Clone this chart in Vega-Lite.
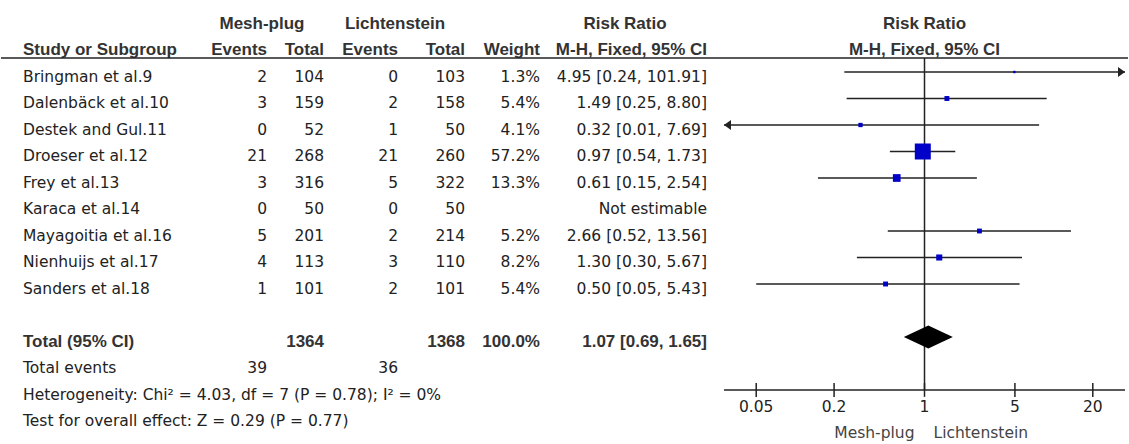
{
  "$schema": "https://vega.github.io/schema/vega-lite/v6.json",
  "width": 1129,
  "height": 444,
  "autosize": {"type": "fit", "contains": "padding"},
  "padding": 0,
  "background": "white",
  "config": {"view": {"stroke": null}, "text": {"font": "DejaVu Sans", "fontSize": 15.5, "color": "#222222"}},
  "datasets": {
    "studies": [
      {"study": "Bringman et al.9", "row": 1, "ev1": 2, "tot1": 104, "ev2": 0, "tot2": 103, "weight": 0.013, "rr": 4.95, "lo": 0.24, "hi": 101.91, "ci": "4.95 [0.24, 101.91]"},
      {"study": "Dalenbäck et al.10", "row": 2, "ev1": 3, "tot1": 159, "ev2": 2, "tot2": 158, "weight": 0.054, "rr": 1.49, "lo": 0.25, "hi": 8.80, "ci": "1.49 [0.25, 8.80]"},
      {"study": "Destek and Gul.11", "row": 3, "ev1": 0, "tot1": 52, "ev2": 1, "tot2": 50, "weight": 0.041, "rr": 0.32, "lo": 0.01, "hi": 7.69, "ci": "0.32 [0.01, 7.69]"},
      {"study": "Droeser et al.12", "row": 4, "ev1": 21, "tot1": 268, "ev2": 21, "tot2": 260, "weight": 0.572, "rr": 0.97, "lo": 0.54, "hi": 1.73, "ci": "0.97 [0.54, 1.73]"},
      {"study": "Frey et al.13", "row": 5, "ev1": 3, "tot1": 316, "ev2": 5, "tot2": 322, "weight": 0.133, "rr": 0.61, "lo": 0.15, "hi": 2.54, "ci": "0.61 [0.15, 2.54]"},
      {"study": "Karaca et al.14", "row": 6, "ev1": 0, "tot1": 50, "ev2": 0, "tot2": 50, "weight": null, "rr": null, "lo": null, "hi": null, "ci": "Not estimable"},
      {"study": "Mayagoitia et al.16", "row": 7, "ev1": 5, "tot1": 201, "ev2": 2, "tot2": 214, "weight": 0.052, "rr": 2.66, "lo": 0.52, "hi": 13.56, "ci": "2.66 [0.52, 13.56]"},
      {"study": "Nienhuijs et al.17", "row": 8, "ev1": 4, "tot1": 113, "ev2": 3, "tot2": 110, "weight": 0.082, "rr": 1.30, "lo": 0.30, "hi": 5.67, "ci": "1.30 [0.30, 5.67]"},
      {"study": "Sanders et al.18", "row": 9, "ev1": 1, "tot1": 101, "ev2": 2, "tot2": 101, "weight": 0.054, "rr": 0.50, "lo": 0.05, "hi": 5.43, "ci": "0.50 [0.05, 5.43]"}
    ],
    "total": [
      {"label": "Total (95% CI)", "row": 11, "tot1": 1364, "tot2": 1368, "weight": 1.0, "rr": 1.07, "lo": 0.69, "hi": 1.65, "ci": "1.07 [0.69, 1.65]"}
    ],
    "events": [
      {"label": "Total events", "row": 12, "ev1": 39, "ev2": 36}
    ],
    "notes": [
      {"label": "Heterogeneity: Chi² = 4.03, df = 7 (P = 0.78); I² = 0%", "row": 13},
      {"label": "Test for overall effect: Z = 0.29 (P = 0.77)", "row": 14}
    ],
    "headers": [
      {"label": "Mesh-plug", "col": 1, "row": -1},
      {"label": "Lichtenstein", "col": 4, "row": -1},
      {"label": "Risk Ratio", "col": 8, "row": -1},
      {"label": "Study or Subgroup", "col": 0, "row": 0},
      {"label": "Events", "col": 2, "row": 0},
      {"label": "Total", "col": 3, "row": 0},
      {"label": "Events", "col": 5, "row": 0},
      {"label": "Total", "col": 6, "row": 0},
      {"label": "Weight", "col": 7, "row": 0},
      {"label": "M-H, Fixed, 95% CI", "col": 9, "row": 0}
    ],
    "forest_headers": [
      {"label": "Risk Ratio", "row": -1},
      {"label": "M-H, Fixed, 95% CI", "row": 0}
    ],
    "null_effect": [
      {"rr": 1}
    ],
    "ticks": [
      {"tick": 0.05, "label": "0.05"},
      {"tick": 0.2, "label": "0.2"},
      {"tick": 1, "label": "1"},
      {"tick": 5, "label": "5"},
      {"tick": 20, "label": "20"}
    ],
    "favours": [
      {"label": "Mesh-plug", "side": "left"},
      {"label": "Lichtenstein", "side": "right"}
    ]
  },
  "resolve": {"scale": {"x": "independent"}},
  "layer": [
    {
      "layer": [
        {"data": {"name": "headers"}, "transform": [{"filter": "datum.col == 0"}],
         "mark": {"type": "text", "align": "left", "baseline": "middle", "dy": 5, "font": "Liberation Sans", "fontWeight": "bold", "fontSize": 17, "color": "#333333"},
         "encoding": {"x": {"field": "col", "type": "quantitative", "scale": {"type": "linear", "domain": [0,1,2,3,4,5,6,7,8,9], "range": [22,261,266,323,394,397,464,539,624,706], "nice": false, "zero": false}, "axis": null},
                      "y": {"field": "row", "type": "quantitative", "scale": {"domain": [-1.717, 15.038], "reverse": true, "nice": false, "zero": false}, "axis": null},
                      "text": {"field": "label"}}},
        {"data": {"name": "headers"}, "transform": [{"filter": "indexof([1,4,8], datum.col) >= 0"}],
         "mark": {"type": "text", "align": "center", "baseline": "middle", "dy": 5, "font": "Liberation Sans", "fontWeight": "bold", "fontSize": 17, "color": "#333333"},
         "encoding": {"x": {"field": "col", "type": "quantitative", "scale": {"type": "linear", "domain": [0,1,2,3,4,5,6,7,8,9], "range": [22,261,266,323,394,397,464,539,624,706], "nice": false, "zero": false}, "axis": null},
                      "y": {"field": "row", "type": "quantitative", "axis": null},
                      "text": {"field": "label"}}},
        {"data": {"name": "headers"}, "transform": [{"filter": "datum.col != 0 && indexof([1,4,8], datum.col) < 0"}],
         "mark": {"type": "text", "align": "right", "baseline": "middle", "dy": 5, "font": "Liberation Sans", "fontWeight": "bold", "fontSize": 17, "color": "#333333"},
         "encoding": {"x": {"field": "col", "type": "quantitative", "scale": {"type": "linear", "domain": [0,1,2,3,4,5,6,7,8,9], "range": [22,261,266,323,394,397,464,539,624,706], "nice": false, "zero": false}, "axis": null},
                      "y": {"field": "row", "type": "quantitative", "axis": null},
                      "text": {"field": "label"}}},
        {"data": {"name": "studies"},
         "mark": {"type": "text", "align": "left", "baseline": "middle", "dy": 5},
         "encoding": {"x": {"datum": 0, "type": "quantitative", "scale": {"type": "linear", "domain": [0,1,2,3,4,5,6,7,8,9], "range": [22,261,266,323,394,397,464,539,624,706], "nice": false, "zero": false}, "axis": null},
                      "y": {"field": "row", "type": "quantitative", "axis": null},
                      "text": {"field": "study"}}},
        {"data": {"name": "studies"},
         "mark": {"type": "text", "align": "right", "baseline": "middle", "dy": 5},
         "encoding": {"x": {"datum": 2, "type": "quantitative", "scale": {"type": "linear", "domain": [0,1,2,3,4,5,6,7,8,9], "range": [22,261,266,323,394,397,464,539,624,706], "nice": false, "zero": false}, "axis": null},
                      "y": {"field": "row", "type": "quantitative", "axis": null},
                      "text": {"field": "ev1", "type": "quantitative"}}},
        {"data": {"name": "studies"},
         "mark": {"type": "text", "align": "right", "baseline": "middle", "dy": 5},
         "encoding": {"x": {"datum": 3, "type": "quantitative", "scale": {"type": "linear", "domain": [0,1,2,3,4,5,6,7,8,9], "range": [22,261,266,323,394,397,464,539,624,706], "nice": false, "zero": false}, "axis": null},
                      "y": {"field": "row", "type": "quantitative", "axis": null},
                      "text": {"field": "tot1", "type": "quantitative"}}},
        {"data": {"name": "studies"},
         "mark": {"type": "text", "align": "right", "baseline": "middle", "dy": 5},
         "encoding": {"x": {"datum": 5, "type": "quantitative", "scale": {"type": "linear", "domain": [0,1,2,3,4,5,6,7,8,9], "range": [22,261,266,323,394,397,464,539,624,706], "nice": false, "zero": false}, "axis": null},
                      "y": {"field": "row", "type": "quantitative", "axis": null},
                      "text": {"field": "ev2", "type": "quantitative"}}},
        {"data": {"name": "studies"},
         "mark": {"type": "text", "align": "right", "baseline": "middle", "dy": 5},
         "encoding": {"x": {"datum": 6, "type": "quantitative", "scale": {"type": "linear", "domain": [0,1,2,3,4,5,6,7,8,9], "range": [22,261,266,323,394,397,464,539,624,706], "nice": false, "zero": false}, "axis": null},
                      "y": {"field": "row", "type": "quantitative", "axis": null},
                      "text": {"field": "tot2", "type": "quantitative"}}},
        {"data": {"name": "studies"}, "transform": [{"filter": "isValid(datum.weight)"}],
         "mark": {"type": "text", "align": "right", "baseline": "middle", "dy": 5},
         "encoding": {"x": {"datum": 7, "type": "quantitative", "scale": {"type": "linear", "domain": [0,1,2,3,4,5,6,7,8,9], "range": [22,261,266,323,394,397,464,539,624,706], "nice": false, "zero": false}, "axis": null},
                      "y": {"field": "row", "type": "quantitative", "axis": null},
                      "text": {"field": "weight", "type": "quantitative", "format": ".1%"}}},
        {"data": {"name": "studies"},
         "mark": {"type": "text", "align": "right", "baseline": "middle", "dy": 5},
         "encoding": {"x": {"datum": 9, "type": "quantitative", "scale": {"type": "linear", "domain": [0,1,2,3,4,5,6,7,8,9], "range": [22,261,266,323,394,397,464,539,624,706], "nice": false, "zero": false}, "axis": null},
                      "y": {"field": "row", "type": "quantitative", "axis": null},
                      "text": {"field": "ci"}}},
        {"data": {"name": "total"},
         "mark": {"type": "text", "align": "left", "baseline": "middle", "dy": 5, "font": "Liberation Sans", "fontWeight": "bold", "fontSize": 17, "color": "#333333"},
         "encoding": {"x": {"datum": 0, "type": "quantitative", "scale": {"type": "linear", "domain": [0,1,2,3,4,5,6,7,8,9], "range": [22,261,266,323,394,397,464,539,624,706], "nice": false, "zero": false}, "axis": null},
                      "y": {"field": "row", "type": "quantitative", "axis": null},
                      "text": {"field": "label"}}},
        {"data": {"name": "total"},
         "mark": {"type": "text", "align": "right", "baseline": "middle", "dy": 5, "font": "Liberation Sans", "fontWeight": "bold", "fontSize": 17, "color": "#333333"},
         "encoding": {"x": {"datum": 3, "type": "quantitative", "scale": {"type": "linear", "domain": [0,1,2,3,4,5,6,7,8,9], "range": [22,261,266,323,394,397,464,539,624,706], "nice": false, "zero": false}, "axis": null},
                      "y": {"field": "row", "type": "quantitative", "axis": null},
                      "text": {"field": "tot1", "type": "quantitative"}}},
        {"data": {"name": "total"},
         "mark": {"type": "text", "align": "right", "baseline": "middle", "dy": 5, "font": "Liberation Sans", "fontWeight": "bold", "fontSize": 17, "color": "#333333"},
         "encoding": {"x": {"datum": 6, "type": "quantitative", "scale": {"type": "linear", "domain": [0,1,2,3,4,5,6,7,8,9], "range": [22,261,266,323,394,397,464,539,624,706], "nice": false, "zero": false}, "axis": null},
                      "y": {"field": "row", "type": "quantitative", "axis": null},
                      "text": {"field": "tot2", "type": "quantitative"}}},
        {"data": {"name": "total"},
         "mark": {"type": "text", "align": "right", "baseline": "middle", "dy": 5, "font": "Liberation Sans", "fontWeight": "bold", "fontSize": 17, "color": "#333333"},
         "encoding": {"x": {"datum": 7, "type": "quantitative", "scale": {"type": "linear", "domain": [0,1,2,3,4,5,6,7,8,9], "range": [22,261,266,323,394,397,464,539,624,706], "nice": false, "zero": false}, "axis": null},
                      "y": {"field": "row", "type": "quantitative", "axis": null},
                      "text": {"field": "weight", "type": "quantitative", "format": ".1%"}}},
        {"data": {"name": "total"},
         "mark": {"type": "text", "align": "right", "baseline": "middle", "dy": 5, "font": "Liberation Sans", "fontWeight": "bold", "fontSize": 17, "color": "#333333"},
         "encoding": {"x": {"datum": 9, "type": "quantitative", "scale": {"type": "linear", "domain": [0,1,2,3,4,5,6,7,8,9], "range": [22,261,266,323,394,397,464,539,624,706], "nice": false, "zero": false}, "axis": null},
                      "y": {"field": "row", "type": "quantitative", "axis": null},
                      "text": {"field": "ci"}}},
        {"data": {"name": "events"},
         "mark": {"type": "text", "align": "left", "baseline": "middle", "dy": 5},
         "encoding": {"x": {"datum": 0, "type": "quantitative", "scale": {"type": "linear", "domain": [0,1,2,3,4,5,6,7,8,9], "range": [22,261,266,323,394,397,464,539,624,706], "nice": false, "zero": false}, "axis": null},
                      "y": {"field": "row", "type": "quantitative", "axis": null},
                      "text": {"field": "label"}}},
        {"data": {"name": "events"},
         "mark": {"type": "text", "align": "right", "baseline": "middle", "dy": 5},
         "encoding": {"x": {"datum": 2, "type": "quantitative", "scale": {"type": "linear", "domain": [0,1,2,3,4,5,6,7,8,9], "range": [22,261,266,323,394,397,464,539,624,706], "nice": false, "zero": false}, "axis": null},
                      "y": {"field": "row", "type": "quantitative", "axis": null},
                      "text": {"field": "ev1", "type": "quantitative"}}},
        {"data": {"name": "events"},
         "mark": {"type": "text", "align": "right", "baseline": "middle", "dy": 5},
         "encoding": {"x": {"datum": 5, "type": "quantitative", "scale": {"type": "linear", "domain": [0,1,2,3,4,5,6,7,8,9], "range": [22,261,266,323,394,397,464,539,624,706], "nice": false, "zero": false}, "axis": null},
                      "y": {"field": "row", "type": "quantitative", "axis": null},
                      "text": {"field": "ev2", "type": "quantitative"}}},
        {"data": {"name": "notes"},
         "mark": {"type": "text", "align": "left", "baseline": "middle", "dy": 5},
         "encoding": {"x": {"datum": 0, "type": "quantitative", "scale": {"type": "linear", "domain": [0,1,2,3,4,5,6,7,8,9], "range": [22,261,266,323,394,397,464,539,624,706], "nice": false, "zero": false}, "axis": null},
                      "y": {"field": "row", "type": "quantitative", "axis": null},
                      "text": {"field": "label"}}}
      ]
    },
    {
      "layer": [
        {"data": {"name": "forest_headers"},
         "mark": {"type": "text", "align": "center", "baseline": "middle", "dy": 5, "font": "Liberation Sans", "fontWeight": "bold", "fontSize": 17, "color": "#333333"},
         "encoding": {"x": {"datum": 1, "type": "quantitative", "scale": {"type": "log", "domain": [0.02818, 35.48], "range": [723, 1124], "clamp": true, "nice": false}, "axis": null},
                      "y": {"field": "row", "type": "quantitative", "axis": null},
                      "text": {"field": "label"}}},
        {"data": {"name": "null_effect"},
         "mark": {"type": "rule", "color": "#222222", "strokeWidth": 1.5},
         "encoding": {"y": {"datum": 0.47, "type": "quantitative", "axis": null}}},
        {"data": {"name": "null_effect"},
         "mark": {"type": "rule", "color": "#222222", "strokeWidth": 1.5},
         "encoding": {"x": {"field": "rr", "type": "quantitative", "scale": {"type": "log", "domain": [0.02818, 35.48], "range": [723, 1124], "clamp": true, "nice": false}, "axis": null},
                      "y": {"datum": 0.47, "type": "quantitative", "axis": null},
                      "y2": {"datum": 13}}},
        {"data": {"name": "studies"}, "transform": [{"filter": "isValid(datum.rr)"}],
         "mark": {"type": "rule", "color": "#222222", "strokeWidth": 1.5},
         "encoding": {"x": {"field": "lo", "type": "quantitative", "scale": {"type": "log", "domain": [0.02818, 35.48], "range": [723, 1124], "clamp": true, "nice": false}, "axis": null},
                      "x2": {"field": "hi"},
                      "y": {"field": "row", "type": "quantitative", "axis": null}}},
        {"data": {"name": "studies"}, "transform": [{"filter": "isValid(datum.hi) && datum.hi > 35.48"}],
         "mark": {"type": "point", "shape": "M0,0L-1.4,-1L-1.4,1Z", "filled": true, "color": "#222222", "opacity": 1, "size": 100, "strokeWidth": 0},
         "encoding": {"x": {"field": "hi", "type": "quantitative", "scale": {"type": "log", "domain": [0.02818, 35.48], "range": [723, 1124], "clamp": true, "nice": false}, "axis": null},
                      "y": {"field": "row", "type": "quantitative", "axis": null}}},
        {"data": {"name": "studies"}, "transform": [{"filter": "isValid(datum.lo) && datum.lo < 0.02818"}],
         "mark": {"type": "point", "shape": "M0,0L1.4,-1L1.4,1Z", "filled": true, "color": "#222222", "opacity": 1, "size": 100, "strokeWidth": 0},
         "encoding": {"x": {"field": "lo", "type": "quantitative", "scale": {"type": "log", "domain": [0.02818, 35.48], "range": [723, 1124], "clamp": true, "nice": false}, "axis": null},
                      "y": {"field": "row", "type": "quantitative", "axis": null}}},
        {"data": {"name": "studies"}, "transform": [{"filter": "isValid(datum.rr)"}],
         "mark": {"type": "point", "shape": "square", "filled": true, "color": "#0000c8", "opacity": 1, "strokeWidth": 0},
         "encoding": {"x": {"field": "rr", "type": "quantitative", "scale": {"type": "log", "domain": [0.02818, 35.48], "range": [723, 1124], "clamp": true, "nice": false}, "axis": null},
                      "y": {"field": "row", "type": "quantitative", "axis": null},
                      "size": {"field": "weight", "type": "quantitative", "scale": {"domain": [0, 0.572], "range": [0, 256], "zero": true}, "legend": null}}},
        {"data": {"name": "total"},
         "mark": {"type": "point", "shape": "M-1,0L0,-0.47L1,0L0,0.47Z", "filled": true, "color": "#000000", "opacity": 1, "size": 2401, "strokeWidth": 0},
         "encoding": {"x": {"field": "rr", "type": "quantitative", "scale": {"type": "log", "domain": [0.02818, 35.48], "range": [723, 1124], "clamp": true, "nice": false}, "axis": null},
                      "y": {"field": "row", "type": "quantitative", "axis": null}}},
        {"data": {"name": "null_effect"},
         "mark": {"type": "rule", "color": "#222222", "strokeWidth": 1.5},
         "encoding": {"x": {"datum": 0.02818, "type": "quantitative", "scale": {"type": "log", "domain": [0.02818, 35.48], "range": [723, 1124], "clamp": true, "nice": false}, "axis": null},
                      "x2": {"datum": 35.48},
                      "y": {"datum": 13, "type": "quantitative", "axis": null}}},
        {"data": {"name": "ticks"},
         "mark": {"type": "rule", "color": "#222222", "strokeWidth": 1.5},
         "encoding": {"x": {"field": "tick", "type": "quantitative", "scale": {"type": "log", "domain": [0.02818, 35.48], "range": [723, 1124], "clamp": true, "nice": false}, "axis": null},
                      "y": {"datum": 12.74, "type": "quantitative", "axis": null},
                      "y2": {"datum": 13.26}}},
        {"data": {"name": "ticks"},
         "mark": {"type": "text", "align": "center", "baseline": "middle", "dy": 17},
         "encoding": {"x": {"field": "tick", "type": "quantitative", "scale": {"type": "log", "domain": [0.02818, 35.48], "range": [723, 1124], "clamp": true, "nice": false}, "axis": null},
                      "y": {"datum": 13, "type": "quantitative", "axis": null},
                      "text": {"field": "label"}}},
        {"data": {"name": "favours"}, "transform": [{"filter": "datum.side == 'left'"}],
         "mark": {"type": "text", "align": "right", "baseline": "middle", "dy": 17, "dx": -10, "color": "#444444"},
         "encoding": {"x": {"datum": 1, "type": "quantitative", "scale": {"type": "log", "domain": [0.02818, 35.48], "range": [723, 1124], "clamp": true, "nice": false}, "axis": null},
                      "y": {"datum": 14, "type": "quantitative", "axis": null},
                      "text": {"field": "label"}}},
        {"data": {"name": "favours"}, "transform": [{"filter": "datum.side == 'right'"}],
         "mark": {"type": "text", "align": "left", "baseline": "middle", "dy": 17, "dx": 9, "color": "#444444"},
         "encoding": {"x": {"datum": 1, "type": "quantitative", "scale": {"type": "log", "domain": [0.02818, 35.48], "range": [723, 1124], "clamp": true, "nice": false}, "axis": null},
                      "y": {"datum": 14, "type": "quantitative", "axis": null},
                      "text": {"field": "label"}}}
      ]
    }
  ]
}
